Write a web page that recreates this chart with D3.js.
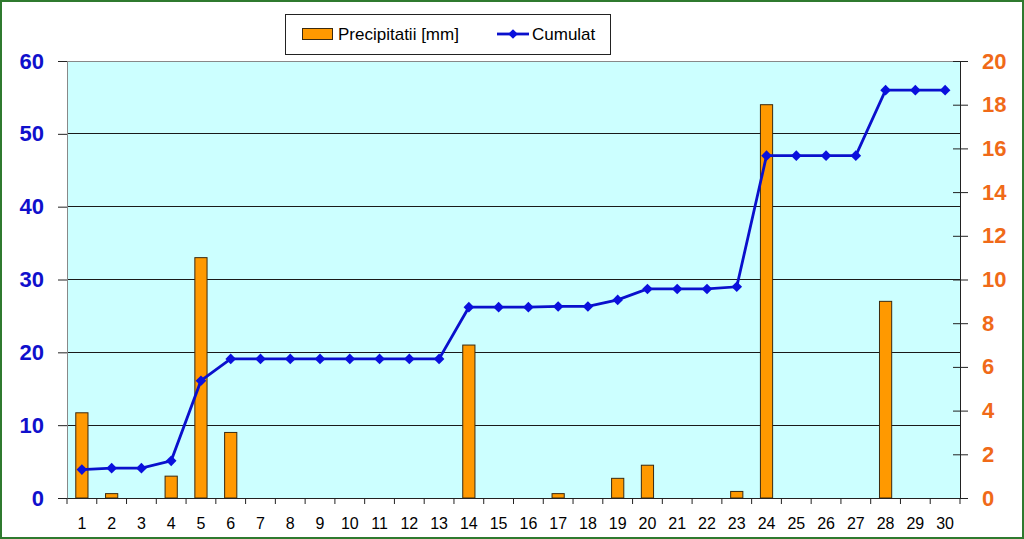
<!DOCTYPE html>
<html><head><meta charset="utf-8">
<script src="https://cdn.jsdelivr.net/npm/d3@7"></script>
<style>body{margin:0;background:#fff}svg{display:block}</style>
</head><body>
<script>
const days = d3.range(1, 31).map(String);
const precip = [3.9,0.2,0,1.0,11.0,3.0,0,0,0,0,0,0,0,7.0,0,0,0.2,0,0.9,1.5,0,0,0.3,18.0,0,0,0,9.0,0,0];
const cumulat = [3.9,4.1,4.1,5.1,16.1,19.1,19.1,19.1,19.1,19.1,19.1,19.1,19.1,26.2,26.2,26.2,26.3,26.3,27.2,28.7,28.7,28.7,29.0,47.0,47.0,47.0,47.0,56.0,56.0,56.0];
const leftTicks = [0,10,20,30,40,50,60];
const rightTicks = [0,2,4,6,8,10,12,14,16,18,20];
const legendLabels = ["Precipitatii [mm]", "Cumulat"];

const W = 1024, H = 539;
const L = 67, R = 960, T = 61, B = 498;
const svg = d3.select("body").append("svg").attr("width", W).attr("height", H);
svg.append("rect").attr("x",1).attr("y",1).attr("width",W-2).attr("height",H-2)
  .attr("fill","#fff").attr("stroke","#2f7a2f").attr("stroke-width",2);

const x = d3.scaleBand().domain(days).range([L, R]).padding(0);
const yL = d3.scaleLinear().domain([0,60]).range([B, T]);
const yR = d3.scaleLinear().domain([0,20]).range([B, T]);

svg.append("rect").attr("x",L).attr("y",T).attr("width",R-L).attr("height",B-T).attr("fill","#ccffff");
// gridlines
svg.append("g").selectAll("line").data(leftTicks.filter(d=>d>0&&d<60)).join("line")
  .attr("x1",L).attr("x2",R).attr("y1",d=>yL(d)).attr("y2",d=>yL(d))
  .attr("stroke","#1a1a1a").attr("stroke-width",1).attr("shape-rendering","crispEdges");
svg.append("line").attr("x1",L).attr("x2",R).attr("y1",T).attr("y2",T).attr("stroke","#888").attr("shape-rendering","crispEdges");

// bars
const bw = x.bandwidth()*0.41;
svg.append("g").selectAll("rect").data(precip.map((v,i)=>({d:days[i],v})).filter(o=>o.v>0)).join("rect")
  .attr("x",o=>x(o.d)+x.bandwidth()/2-bw/2).attr("width",bw)
  .attr("y",o=>yR(o.v)).attr("height",o=>B-yR(o.v))
  .attr("fill","#ff9900").attr("stroke","#3a2a10").attr("stroke-width",1);

// left axis
const gl = svg.append("g").attr("transform",`translate(${L},0)`)
  .call(d3.axisLeft(yL).tickValues(leftTicks).tickSize(9).tickPadding(14));
gl.select(".domain").attr("stroke","#888");
gl.selectAll(".tick line").attr("stroke","#222");
gl.selectAll("text").attr("fill","#1010cc").attr("font-family","Arial, 'Liberation Sans', sans-serif")
  .attr("font-weight","bold").attr("font-size","22px");

// right axis
const gr = svg.append("g").attr("transform",`translate(${R},0)`)
  .call(d3.axisRight(yR).tickValues(rightTicks).tickSize(8).tickPadding(14));
gr.select(".domain").attr("stroke","#222");
gr.selectAll(".tick line").attr("stroke","#222").attr("x1",-7);
gr.selectAll("text").attr("fill","#f06a18").attr("font-family","Arial, 'Liberation Sans', sans-serif")
  .attr("font-weight","bold").attr("font-size","22px");

// bottom axis
const gb = svg.append("g").attr("transform",`translate(0,${B})`)
  .call(d3.axisBottom(x).tickSize(0).tickPadding(20));
gb.select(".domain").attr("stroke","#222");
gb.selectAll("text").attr("fill","#000").attr("font-family","Arial, 'Liberation Sans', sans-serif").attr("font-size","16px");
svg.append("g").selectAll("line").data(days.concat(["end"])).join("line")
  .attr("x1",d=>d==="end"?R:x(d)).attr("x2",d=>d==="end"?R:x(d))
  .attr("y1",B).attr("y2",B+6).attr("stroke","#222");

// line
const lineGen = d3.line().x((v,i)=>x(days[i])+x.bandwidth()/2).y(v=>yL(v));
svg.append("path").datum(cumulat).attr("d",lineGen).attr("fill","none")
  .attr("stroke","#0a10cc").attr("stroke-width",2.8);
svg.append("g").selectAll("path").data(cumulat).join("path")
  .attr("d",d3.symbol().type(d3.symbolDiamond2).size(72))
  .attr("transform",(v,i)=>`translate(${x(days[i])+x.bandwidth()/2},${yL(v)})`)
  .attr("fill","#0a10dd");

// legend
const lg = svg.append("g");
lg.append("rect").attr("x",285.5).attr("y",14.5).attr("width",325).attr("height",40)
  .attr("fill","#fff").attr("stroke","#222");
lg.append("rect").attr("x",302.5).attr("y",28.5).attr("width",30).attr("height",11)
  .attr("fill","#ff9900").attr("stroke","#3a2a10");
lg.append("text").attr("x",338).attr("y",40).text(legendLabels[0])
  .attr("font-family","Arial, 'Liberation Sans', sans-serif").attr("font-size","17px");
lg.append("line").attr("x1",497).attr("x2",529).attr("y1",34).attr("y2",34).attr("stroke","#0a10cc").attr("stroke-width",2.8);
lg.append("path").attr("d",d3.symbol().type(d3.symbolDiamond2).size(60)).attr("transform","translate(513,34)").attr("fill","#0a10dd");
lg.append("text").attr("x",532).attr("y",40).text(legendLabels[1])
  .attr("font-family","Arial, 'Liberation Sans', sans-serif").attr("font-size","17px");
</script>
</body></html>
